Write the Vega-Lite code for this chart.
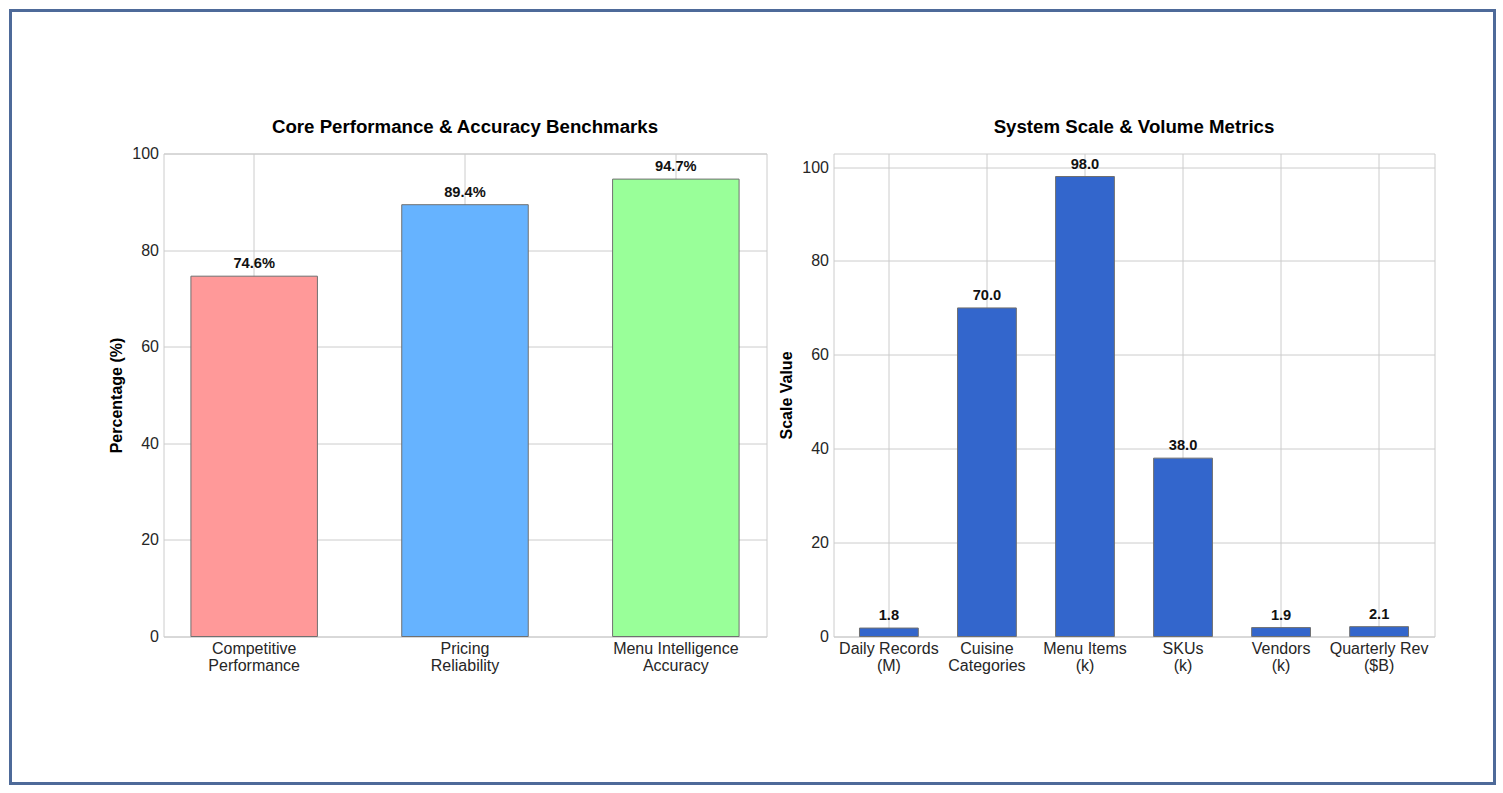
{
  "$schema": "https://vega.github.io/schema/vega-lite/v6.json",
  "autosize": {"type": "pad"},
  "padding": {"left": 8.5, "top": 8.5, "right": 7, "bottom": 8.5},
  "background": "white",
  "bounds": "flush",
  "spacing": 67,
  "datasets": {
    "accuracy": [
      {"metric": "Competitive Performance", "value": 74.6},
      {"metric": "Pricing Reliability", "value": 89.4},
      {"metric": "Menu Intelligence Accuracy", "value": 94.7}
    ],
    "scale": [
      {"metric": "Daily Records (M)", "value": 1.8},
      {"metric": "Cuisine Categories", "value": 70.0},
      {"metric": "Menu Items (k)", "value": 98.0},
      {"metric": "SKUs (k)", "value": 38.0},
      {"metric": "Vendors (k)", "value": 1.9},
      {"metric": "Quarterly Rev ($B)", "value": 2.1}
    ]
  },
  "config": {
    "font": "Liberation Sans",
    "view": {"stroke": "#cccccc", "strokeWidth": 1},
    "legend": {"strokeWidth": 3},
    "axis": {
      "domain": false,
      "ticks": false,
      "grid": true,
      "gridColor": "#cccccc",
      "gridWidth": 1,
      "labelFont": "Liberation Sans",
      "labelFontSize": 16,
      "labelColor": "#262626",
      "titleFont": "Liberation Sans",
      "titleFontSize": 16,
      "titleFontWeight": "bold",
      "titleColor": "#000000"
    },
    "title": {
      "font": "Liberation Sans",
      "fontSize": 18.67,
      "fontWeight": "bold",
      "color": "#000000",
      "baseline": "alphabetic",
      "anchor": "middle",
      "frame": "group"
    }
  },
  "hconcat": [
    {
      "width": 603,
      "height": 483,
      "title": {"text": "Core Performance & Accuracy Benchmarks", "offset": 9},
      "data": {"name": "accuracy"},
      "transform": [{"calculate": "format(datum.value, '.1f') + '%'", "as": "label"}],
      "encoding": {
        "x": {
          "field": "metric",
          "type": "nominal",
          "sort": null,
          "scale": {"paddingInner": 0.4, "paddingOuter": 0.13},
          "axis": {
            "title": null,
            "labelAngle": 0,
            "bandPosition": 0.5,
            "labelPadding": 4,
            "labelBaseline": "top",
            "labelLineHeight": 16.5,
            "labelExpr": "[substring(datum.label, 0, lastindexof(datum.label, ' ')), substring(datum.label, lastindexof(datum.label, ' ') + 1)]"
          }
        },
        "y": {
          "field": "value",
          "type": "quantitative",
          "scale": {"domain": [0, 100], "nice": false},
          "axis": {"title": "Percentage (%)", "values": [0, 20, 40, 60, 80, 100], "labelPadding": 5, "titlePadding": 7}
        }
      },
      "layer": [
        {
          "mark": {"type": "bar", "stroke": "#707070", "strokeWidth": 1},
          "encoding": {
            "color": {
              "field": "metric",
              "type": "nominal",
              "scale": {
                "domain": ["Competitive Performance", "Pricing Reliability", "Menu Intelligence Accuracy"],
                "range": ["#ff9999", "#66b3ff", "#99ff99"]
              },
              "legend": null
            }
          }
        },
        {
          "mark": {"type": "text", "baseline": "bottom", "dy": -5, "fontSize": 14.67, "fontWeight": "bold", "color": "#111111"},
          "encoding": {"text": {"field": "label"}}
        }
      ]
    },
    {
      "width": 601,
      "height": 483,
      "title": {"text": "System Scale & Volume Metrics", "offset": -128},
      "data": {"name": "scale"},
      "encoding": {
        "x": {
          "field": "metric",
          "type": "nominal",
          "sort": null,
          "scale": {"paddingInner": 0.4, "paddingOuter": 0.265},
          "axis": {
            "title": null,
            "labelAngle": 0,
            "bandPosition": 0.5,
            "labelPadding": 4,
            "labelBaseline": "top",
            "labelLineHeight": 16.5,
            "labelExpr": "[substring(datum.label, 0, lastindexof(datum.label, ' ')), substring(datum.label, lastindexof(datum.label, ' ') + 1)]"
          }
        },
        "y": {
          "field": "value",
          "type": "quantitative",
          "scale": {"domain": [0, 102.9], "nice": false},
          "axis": {"title": "Scale Value", "values": [0, 20, 40, 60, 80, 100], "labelPadding": 5, "titlePadding": 7}
        }
      },
      "layer": [
        {
          "mark": {"type": "bar", "stroke": "#707070", "strokeWidth": 1},
          "encoding": {
            "color": {
              "field": "value",
              "type": "quantitative",
              "scale": {"range": ["#3366cc", "#3366cc"]},
              "legend": {
                "orient": "none",
                "legendX": -823,
                "legendY": -143,
                "direction": "horizontal",
                "title": null,
                "values": [],
                "padding": 20,
                "gradientLength": 1444,
                "gradientThickness": 733,
                "gradientOpacity": 0,
                "gradientStrokeWidth": 0,
                "labelOpacity": 0,
                "strokeColor": "#4e6a99"
              }
            }
          }
        },
        {
          "mark": {"type": "text", "baseline": "bottom", "dy": -5, "fontSize": 14.67, "fontWeight": "bold", "color": "#111111"},
          "encoding": {"text": {"field": "value", "format": ".1f"}}
        }
      ]
    }
  ]
}
